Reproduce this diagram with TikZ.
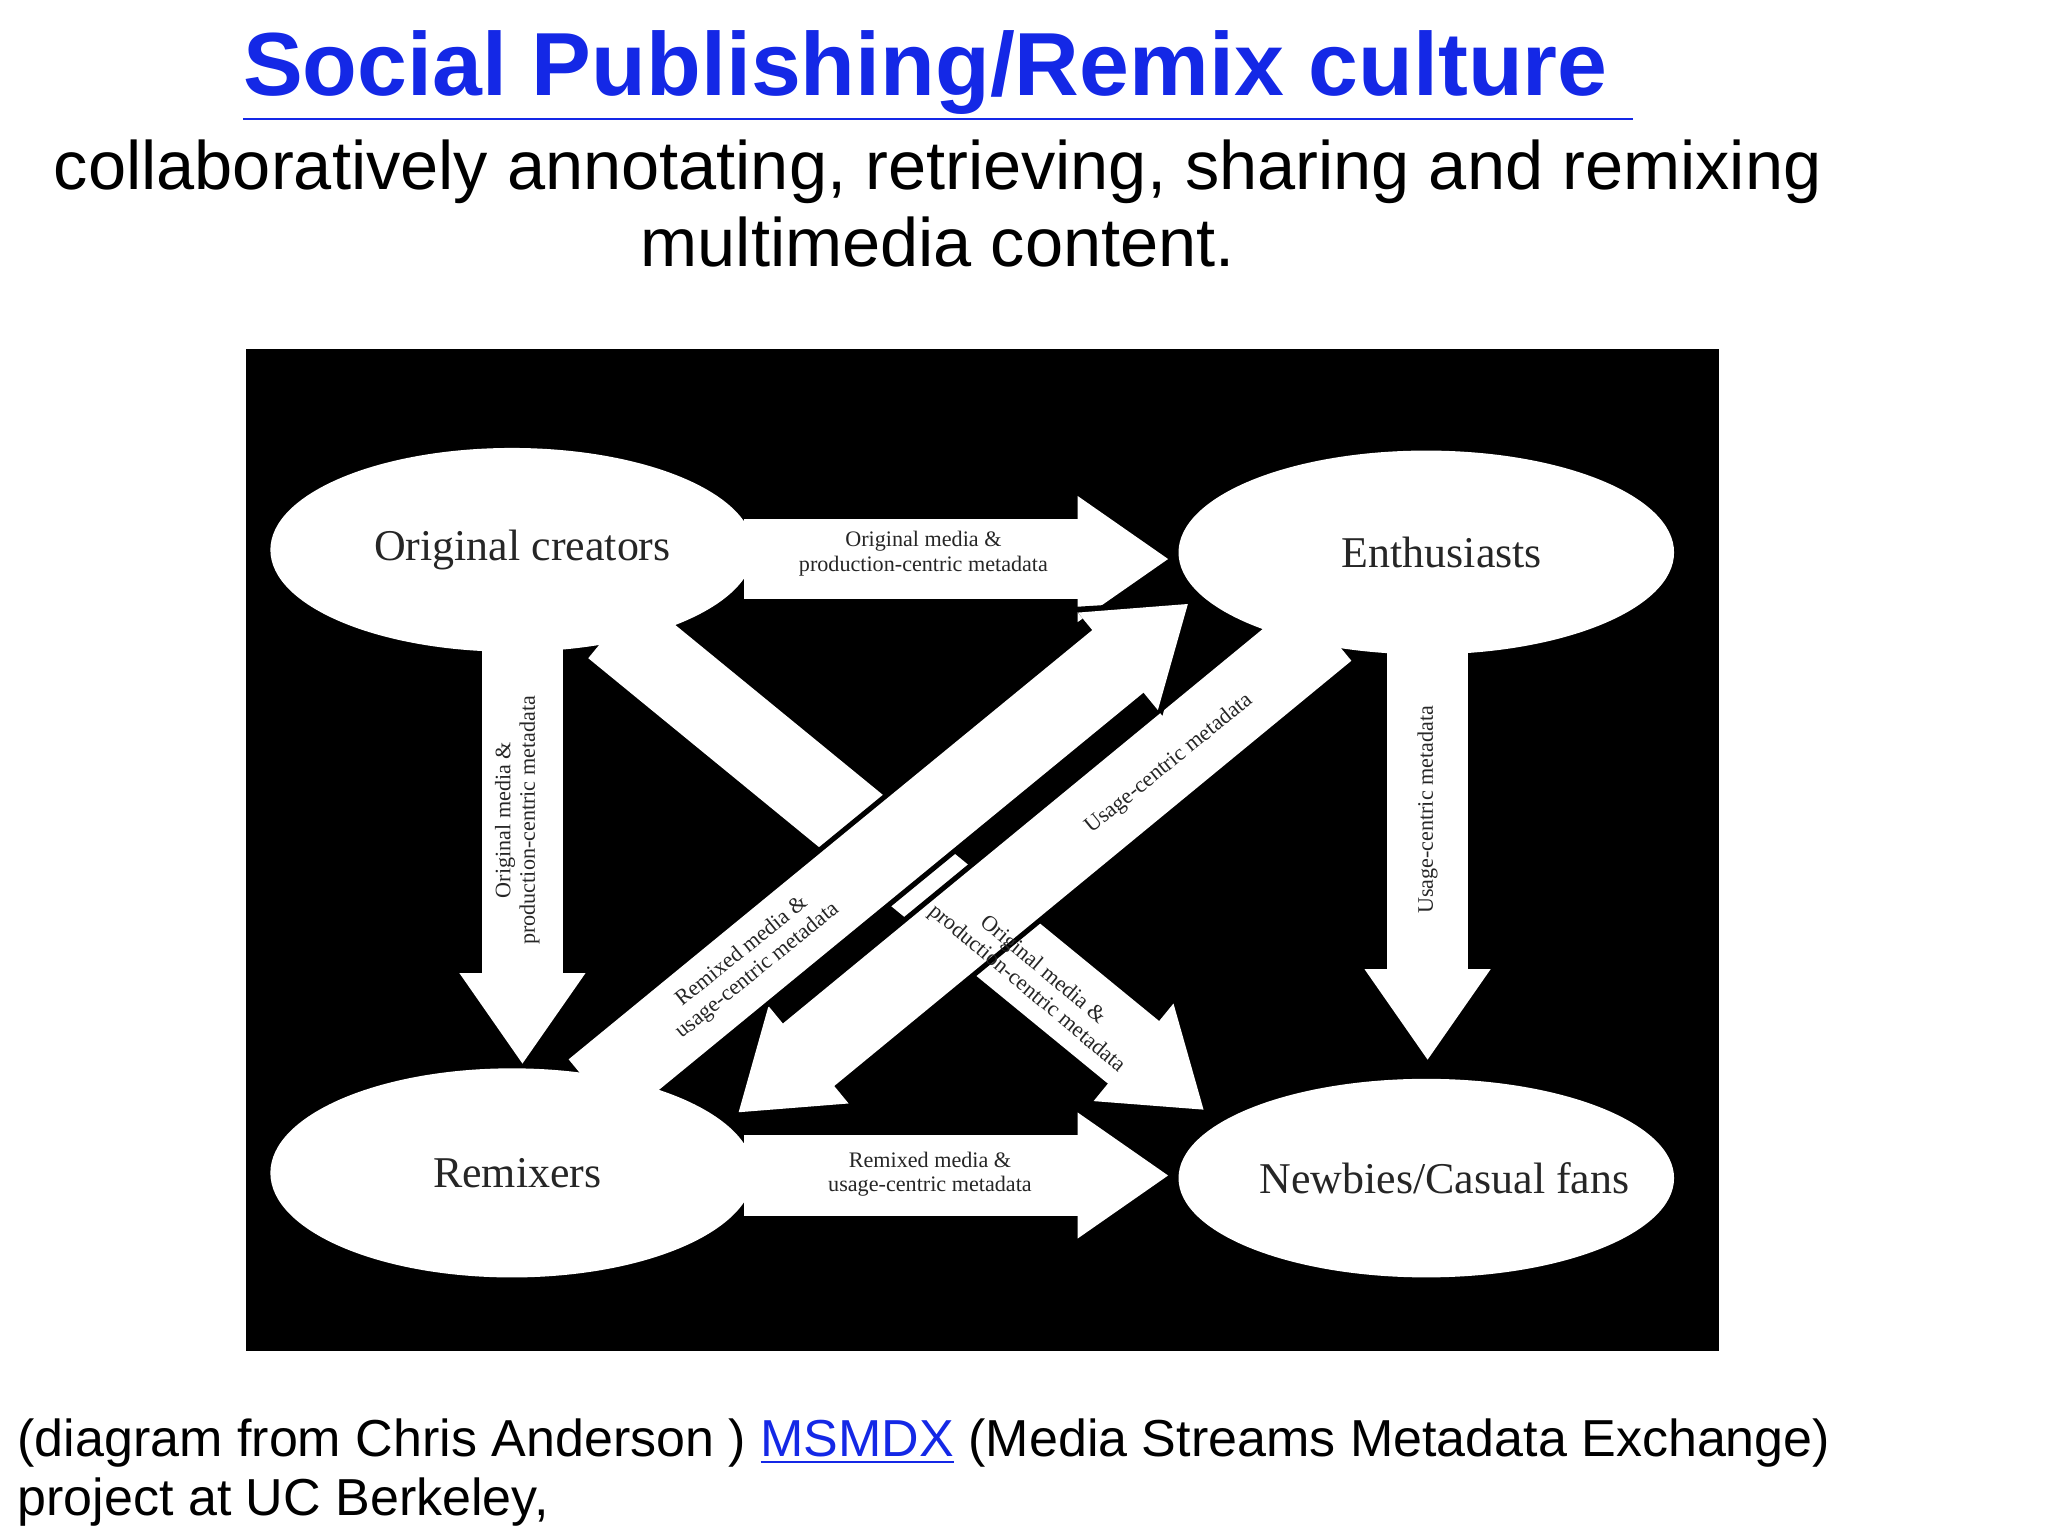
\documentclass[tikz,border=0pt]{standalone}
\usepackage{fontspec}
\setmainfont{Liberation Sans}
\newfontfamily\serifd{Liberation Serif}
\usetikzlibrary{arrows.meta,shapes.geometric}
\definecolor{linkblue}{RGB}{20,40,230}
\begin{document}
\begin{tikzpicture}[x=0.01306cm,y=-0.01306cm,
  ell/.style={ellipse,fill=white,draw=none,inner sep=0pt},
  fatarrow/.style={line width=23pt,white,-{Triangle[length=26pt,width=34pt]}},
  fatedge/.style={line width=26pt,black,-{Triangle[length=28pt,width=38pt]}},
  lab/.style={font=\serifd\fontsize{6.3}{7}\selectfont,align=center,text=black!85},
  big/.style={font=\serifd\fontsize{12.5}{14}\selectfont,text=black!85}]
\useasboundingbox (0,0) rectangle (1568,1176);
\node (title) at (718,58) {\fontsize{25.5}{30}\selectfont\bfseries\color{linkblue}\underline{Social Publishing/Remix culture\ }};
\node (sub) at (718,156) [align=center,font=\fontsize{19.5}{22}\selectfont] {collaboratively annotating, retrieving, sharing and remixing\\multimedia content.};
\fill[black] (188,267) rectangle (1316,1034);
\coordinate (t1) at (570,428); \coordinate (t2) at (895,428);
\coordinate (b1) at (570,900); \coordinate (b2) at (895,900);
\coordinate (l1) at (400,490); \coordinate (l2) at (400,815);
\coordinate (r1) at (1093,495); \coordinate (r2) at (1093,812);
\coordinate (d1) at (470,480); \coordinate (d2) at (922,850);
\coordinate (e1) at (1015,482); \coordinate (e2) at (565,852);
\coordinate (f1) at (455,835); \coordinate (f2) at (910,462);
\foreach \a/\b in {t1/t2,b1/b2,l1/l2,r1/r2,d1/d2,e1/e2,f1/f2}{
  \draw[fatedge,shorten >=-2pt] (\a) -- (\b);
  \draw[fatarrow] (\a) -- (\b);}
\node[ell,minimum width=137.5pt,minimum height=58pt] (oc) at (392,421) {};
\node[big] at (400,421) {Original creators};
\node[ell,minimum width=141pt,minimum height=58pt] (en) at (1092,423) {};
\node[big] at (1104,423) {Enthusiasts};
\node[ell,minimum width=137.5pt,minimum height=59.5pt] (rm) at (392,898) {};
\node[big] at (396,898) {Remixers};
\node[ell,minimum width=141pt,minimum height=56.5pt] (nb) at (1092,902) {};
\node[big] at (1106,902) {Newbies/Casual fans};
\node[lab] at (707,424) {Original media \&\\production-centric metadata};
\node[lab] at (712,899) {Remixed media \&\\usage-centric metadata};
\node[lab,rotate=90] at (396,628) {Original media \&\\production-centric metadata};
\node[lab,rotate=90] at (1093,620) {Usage-centric metadata};
\node[lab,rotate=-40] at (792,750) {Original media \&\\production-centric metadata};
\node[lab,rotate=39] at (895,585) {Usage-centric metadata};
\node[lab,rotate=39] at (574,736) {Remixed media \&\\usage-centric metadata};
\node[anchor=west,font=\fontsize{14.8}{18}\selectfont] (cap1) at (4,1105) {(diagram from Chris Anderson ) {\color{linkblue}\underline{MSMDX}} (Media Streams Metadata Exchange)};
\node[anchor=west,font=\fontsize{14.8}{18}\selectfont] (cap2) at (4,1150) {project at UC Berkeley,};
\end{tikzpicture}
\end{document}
